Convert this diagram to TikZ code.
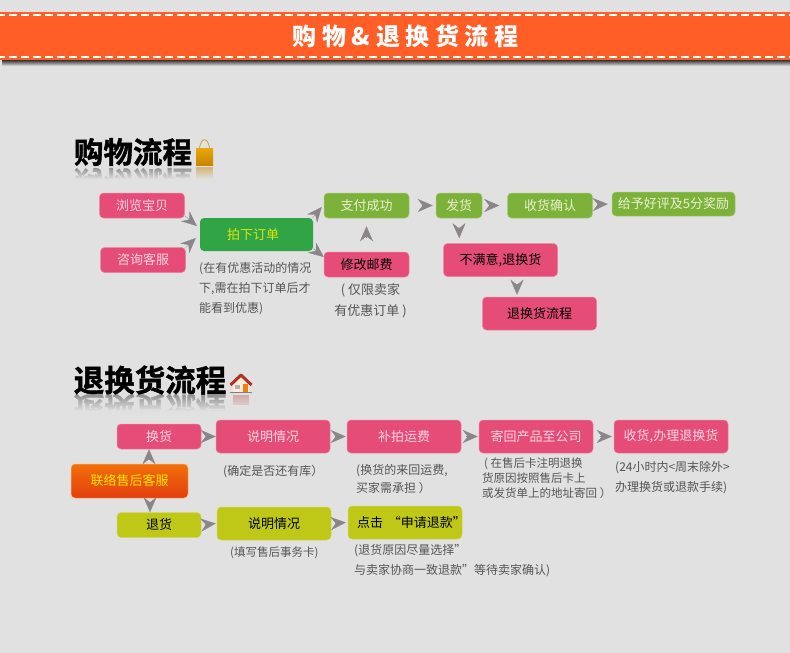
\documentclass[tikz,border=0pt]{standalone}
\usepackage{fontspec}
\usetikzlibrary{arrows.meta,calc,fadings,positioning}
\setmainfont{Noto Sans CJK SC}
\newfontfamily\headfont[FakeBold=1.4]{Noto Sans CJK SC Bold}
\definecolor{pagegray}{RGB}{225,225,225}
\definecolor{bannerorange}{RGB}{255,95,38}
\definecolor{rosepink}{RGB}{229,77,120}
\definecolor{leafgreen}{RGB}{125,178,58}
\definecolor{deepgreen}{RGB}{49,164,69}
\definecolor{olive}{RGB}{191,200,23}
\definecolor{arrowgray}{RGB}{138,133,137}
\definecolor{notegray}{RGB}{85,85,85}
\definecolor{palepink}{RGB}{246,214,224}
\definecolor{palegreen}{RGB}{232,240,208}
\definecolor{contacttop}{RGB}{240,112,10}
\definecolor{contactbottom}{RGB}{228,62,14}
\definecolor{baggold}{RGB}{232,168,10}
\definecolor{bagdark}{RGB}{200,132,0}
\definecolor{roofred}{RGB}{176,48,40}
\newcommand{\flowHeading}[7]{
    %% #1 name, (#2,#3) centre, #4 mirror line, #5 text, #6 half width, #7 fade length
    \node[headnode,text=gray!85,yscale=-1,transform shape] (#1Mirror) at (#2, 2*#4-#3) {#5};
    \fill[pagegray,path fading=north] (#2-#6, #4+1) rectangle (#2+#6+36, #4+#7);
    \fill[pagegray] (#2-#6, #4+#7) rectangle (#2+#6+36, #4+34);
    \node[headnode] (#1) at (#2, #3) {#5};
}

\begin{document}
\begin{tikzpicture}[x=1pt,y=-1pt]
    \tikzstyle{boxnode}=[rectangle,rounded corners=4pt,inner sep=0pt,%
    font=\fontsize{13}{15}\selectfont]
    \tikzstyle{snode}=[boxnode,minimum width=85pt,minimum height=25pt]
    \tikzstyle{lnode}=[boxnode,minimum width=114pt,minimum height=33pt]
    \tikzstyle{pnode}=[fill=rosepink,draw=rosepink!70!white,line width=0.5pt,text=palepink]
    \tikzstyle{gnode}=[fill=leafgreen,draw=leafgreen!70!white,line width=0.5pt,text=palegreen]
    \tikzstyle{onode}=[fill=olive,draw=olive!70!white,line width=0.5pt,text=black]
    \tikzstyle{note}=[inner sep=0pt,align=left,anchor=north west,text=notegray,%
    font=\fontsize{12}{20}\selectfont]
    \tikzstyle{headnode}=[inner sep=0pt,font=\headfont\fontsize{29.5}{30}\selectfont]
    \tikzstyle{flow}=[draw=arrowgray,line width=0.3pt,shorten <=4pt,%
    -{Stealth[length=15pt,width=13pt,inset=5pt,fill=arrowgray]}]

    \useasboundingbox (0,0) rectangle (790,653);
    \fill[pagegray] (0,0) rectangle (790,653);

    %% Banner
    \shade[top color=black!80,bottom color=pagegray] (2,60) rectangle (790,66);
    \fill[bannerorange] (0,12) rectangle (790,60);
    \draw[white,line width=2pt,dash pattern=on 8pt off 4pt,dash phase=3pt] (0,15) -- (790,15);
    \draw[white,line width=2pt,dash pattern=on 8pt off 4pt,dash phase=3pt] (0,57) -- (790,57);
    \node[inner sep=0pt,text=white,font=\bfseries\fontsize{24}{26}\selectfont] (Title) at (405.5,36.5)
        {购 物 \& 退 换 货 流 程};

    %% Shopping
    \fill[bagdark!45!pagegray] (196,167) rectangle (213,180);
    \flowHeading{ShopHead}{133}{152}{167}{购物流程}{62}{12}
    \draw[bagdark!70!pagegray,line width=0.8pt] (199.5,148) .. controls (201,137) and (208,137) .. (209.5,148);
    \fill[top color=baggold,bottom color=bagdark] (196,148) rectangle (213,165);

    \node[snode,pnode] (BROWSE) at (142,205.5) {浏览宝贝};
    \node[snode,pnode] (ASK) at (143,260) {咨询客服};
    \node[boxnode,minimum width=113pt,minimum height=33pt,fill=deepgreen,text=yellow!85!green] (ORDER) at (256.5,234.5) {\hspace*{-7pt}拍下订单};
    \node[snode,gnode] (PAID) at (366.5,205.5) {支付成功};
    \node[snode,pnode,text=black] (POSTAGE) at (366.5,264.5) {修改邮费};
    \node[boxnode,gnode,minimum width=46pt,minimum height=25pt] (SHIP) at (459,205.5) {发货};
    \node[snode,gnode] (RECV) at (550,205.5) {收货确认};
    \node[boxnode,gnode,minimum width=123pt,minimum height=24pt] (RATE) at (673.5,204) {给予好评及5分奖励};
    \node[lnode,pnode,text=black] (UNHAPPY) at (500.5,260) {不满意,退换货};
    \node[lnode,pnode,text=black] (RETURNS) at (539.5,313.5) {退换货流程};

    \node[note] (ORDERNOTE) at (199,262) {(在有优惠活动的情况\\下,需在拍下订单后才\\能看到优惠)};
    \node[note,align=center,anchor=north,font=\fontsize{13}{21}\selectfont] (POSTAGENOTE) at (370.5,283) {( 仅限卖家\\有优惠订单 )};

    \draw[flow] ($(BROWSE.south east)+(-3,-5)$) -- ($(ORDER.west)+(-3,-8.5)$);
    \draw[flow] ($(ASK.north east)+(-3,3)$) -- ($(ORDER.west)+(-4,3.5)$);
    \draw[flow] ($(ORDER.north east)+(-3,3)$) -- ($(PAID.west)+(-2,1.5)$);
    \draw[flow] ($(ORDER.south east)+(-3,-5)$) -- ($(POSTAGE.west)+(0,-7.5)$);
    \draw[flow] ($(POSTAGE.north)+(0,-10)$) -- ($(PAID.south)+(0,8)$);
    \draw[flow] ($(PAID.east)+(9,0)$) -- ($(SHIP.west)+(-3,0)$);
    \draw[flow] ($(SHIP.east)+(3,0)$) -- ($(RECV.west)+(-8,0)$);
    \draw[flow] ($(RECV.east)+(1,-1)$) -- ($(RATE.west)+(-4,0)$);
    \draw[flow] ($(SHIP.south)+(0,5)$) -- ($(UNHAPPY.north west)+(16,-5)$);
    \draw[flow] ($(UNHAPPY.south)+(16.5,3)$) -- ($(RETURNS.north)+(-22.5,-2)$);

    %% Returns
    \fill[roofred!30!pagegray] (233,395) rectangle (249,405);
    \flowHeading{BackHead}{150}{380}{394}{\fontsize{30.5}{31}\selectfont 退换货流程}{78}{17}
    \fill[white!85!orange] (233,382) -- (241,375) -- (249,382) -- (249,392) -- (233,392) -- cycle;
    \draw[roofred,line width=3pt,line join=round] (230.5,385) -- (241,375) -- (251.5,385);
    \fill[orange!70!brown] (243,384) rectangle (248,392);
    \fill[gray!60] (235,385) rectangle (240,389);
    \fill[gray] (230,392) rectangle (252,393);

    \node[boxnode,minimum width=117pt,minimum height=34pt,draw=orange!60!white,line width=0.5pt,%
    top color=contacttop,bottom color=contactbottom,text=yellow!90!orange] (CONTACT) at (129.5,481) {联络售后客服};
    \node[snode,minimum width=84pt,pnode] (EXCHANGE) at (159,436.5) {换货};
    \node[lnode,pnode] (EXPLAIN) at (273,436.5) {说明情况};
    \node[lnode,pnode] (FREIGHT) at (404,436.5) {补拍运费};
    \node[lnode,pnode] (SENDBACK) at (536,436.5) {寄回产品至公司};
    \node[lnode,pnode] (DONE) at (671,436.5) {收货,办理退换货};
    \node[snode,minimum width=84pt,onode] (REFUND) at (159,525) {退货};
    \node[lnode,onode] (EXPLAINB) at (274,523.5) {说明情况};
    \node[lnode,onode] (CLICK) at (405,522.5) {点击\hspace{5pt}“申请退款\rlap{”}};

    \node[note] (EXPLAINNOTE) at (223,465) {(确定是否还有库）};
    \node[note,font=\fontsize{12}{18}\selectfont] (FREIGHTNOTE) at (356,464) {(换货的来回运费,\\ 买家需承担 ）};
    \node[note,font=\fontsize{11.5}{15}\selectfont] (SENDNOTE) at (482,458) {\hspace*{2pt}( 在售后卡注明退换\\货原因按照售后卡上\\或发货单上的地址寄回 ）};
    \node[note] (DONENOTE) at (615,461) {(24小时内<周末除外>\\办理换货或退款手续)};
    \node[note,font=\fontsize{11.5}{15}\selectfont] (EXPLAINBNOTE) at (230,547) {(填写售后事务卡)};
    \node[note] (CLICKNOTE) at (354,544) {(退货原因尽量选择”\\与卖家协商一致退款”等待卖家确认)};

    \draw[flow] ($(CONTACT.north)+(19.5,0)$) -- ($(EXCHANGE.south)+(-10,0)$);
    \draw[flow] ($(CONTACT.south)+(20.5,0)$) -- ($(REFUND.north)+(-9,0)$);
    \draw[flow] ($(EXCHANGE.east)+(1,0)$) -- (EXPLAIN.west);
    \draw[flow] ($(EXPLAIN.east)+(1,0)$) -- ($(FREIGHT.west)+(-1,0)$);
    \draw[flow] ($(FREIGHT.east)+(1,0)$) -- ($(SENDBACK.west)+(-1,0)$);
    \draw[flow] ($(SENDBACK.east)+(3,0)$) -- ($(DONE.west)+(-2,0)$);
    \draw[flow] (REFUND.east) -- ($(EXPLAINB.west)+(-1,0)$);
    \draw[flow] (EXPLAINB.east) -- ($(CLICK.west)+(-2,0)$);
\end{tikzpicture}
\end{document}
